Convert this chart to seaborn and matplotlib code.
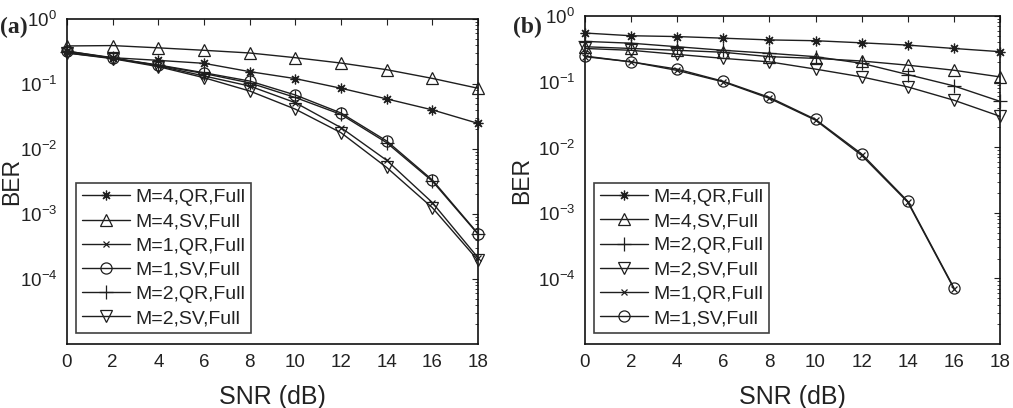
import numpy as np
import pandas as pd
import seaborn as sns
import matplotlib.pyplot as plt

sns.set_style("white", {"xtick.direction": "in", "ytick.direction": "in"})
plt.rcParams['font.family'] = ['Liberation Sans', 'DejaVu Sans']
plt.rcParams['mathtext.fontset'] = 'custom'
plt.rcParams['mathtext.rm'] = 'Liberation Sans'

snr = [0, 2, 4, 6, 8, 10, 12, 14, 16, 18]

# panel (a)
a_m4_qr = [0.32, 0.254, 0.231, 0.208, 0.155, 0.121, 0.086, 0.059, 0.040, 0.0248]
a_m4_sv = [0.385, 0.39, 0.36, 0.33, 0.30, 0.254, 0.21, 0.166, 0.122, 0.086]
a_m1_qr = [0.30, 0.25, 0.19, 0.133, 0.093, 0.0516, 0.0213, 0.0067, 0.0015, 0.000213]
a_m1_sv = [0.32, 0.25, 0.196, 0.149, 0.111, 0.0677, 0.0358, 0.0133, 0.00334, 0.0005]
a_m2_qr = [0.31, 0.25, 0.193, 0.145, 0.104, 0.062, 0.034, 0.0125, 0.0032, 0.00049]
a_m2_sv = [0.30, 0.245, 0.185, 0.125, 0.078, 0.041, 0.0178, 0.0052, 0.00125, 0.000194]

# panel (b)
b_m4_qr = [0.55, 0.50, 0.486, 0.459, 0.432, 0.42, 0.39, 0.36, 0.32, 0.286]
b_m4_sv = [0.34, 0.32, 0.30, 0.28, 0.24, 0.226, 0.206, 0.178, 0.149, 0.118]
b_m2_qr = [0.41, 0.385, 0.34, 0.30, 0.27, 0.24, 0.19, 0.128, 0.086, 0.050]
b_m2_sv = [0.32, 0.30, 0.26, 0.226, 0.20, 0.155, 0.118, 0.083, 0.052, 0.0296]
b_m1_qr = [0.24, 0.20, 0.148, 0.099, 0.0555, 0.0258, 0.0075, 0.00145, 7.0e-5]
b_m1_sv = [0.245, 0.20, 0.155, 0.101, 0.0575, 0.0265, 0.0079, 0.0015, 7.2e-5]

labels_a = ["M=4,QR,Full", "M=4,SV,Full", "M=1,QR,Full", "M=1,SV,Full", "M=2,QR,Full", "M=2,SV,Full"]
labels_b = ["M=4,QR,Full", "M=4,SV,Full", "M=2,QR,Full", "M=2,SV,Full", "M=1,QR,Full", "M=1,SV,Full"]

mk_a = [(8, 2, 0), "^", "x", "o", "+", "v"]
mk_b = [(8, 2, 0), "^", "+", "v", "x", "o"]
ms_a = [7, 9, 5, 8, 10, 9]
ms_b = [7, 9, 10, 9, 5, 8]

series_a = [a_m4_qr, a_m4_sv, a_m1_qr, a_m1_sv, a_m2_qr, a_m2_sv]
series_b = [b_m4_qr, b_m4_sv, b_m2_qr, b_m2_sv, b_m1_qr, b_m1_sv]

W, H = 1013, 408
fig = plt.figure(figsize=(W / 100, H / 100), dpi=100)
ax_a = fig.add_axes([67 / W, 64 / H, 411 / W, 325 / H])
ax_b = fig.add_axes([585 / W, 64 / H, 415 / W, 328 / H])

line_col = '#1e1e1e'

panels = [(ax_a, series_a, labels_a, mk_a, ms_a, 23, 76),
          (ax_b, series_b, labels_b, mk_b, ms_b, 533, 594)]
for ax, series, labels, mks, mss, ylab_x, leg_x in panels:
    for vals, lab, mk, ms in zip(series, labels, mks, mss):
        df = pd.DataFrame({"SNR": snr[:len(vals)], "BER": vals})
        sns.lineplot(data=df, x="SNR", y="BER", ax=ax, color=line_col, lw=1.0,
                     marker=mk, markersize=ms, markerfacecolor='none',
                     markeredgecolor=line_col, markeredgewidth=0.9, label=lab,
                     clip_on=False, zorder=3)
    ax.set_yscale('log')
    ax.set_xlim(0, 18)
    ax.set_ylim(1e-5, 1)
    ax.set_xticks(snr)
    ax.set_yticks([1e0, 1e-1, 1e-2, 1e-3, 1e-4])
    ax.set_yticklabels([r'$10^{0}$', r'$10^{-1}$', r'$10^{-2}$', r'$10^{-3}$', r'$10^{-4}$'])
    ax.tick_params(axis='both', which='both', direction='in', top=True, right=True,
                   labelsize=13.5, colors='#222222')
    ax.tick_params(which='major', length=4, width=0.8, pad=7)
    ax.tick_params(which='minor', length=2, width=0.6)
    ax.set_xlabel("SNR (dB)", fontsize=18, labelpad=10, color='#222222')
    ax.set_ylabel("BER", fontsize=16.5, color='#222222')
    pos = ax.get_position()
    ax.yaxis.set_label_coords((ylab_x - pos.x0 * W) / (pos.width * W), 0.5)
    for sp in ax.spines.values():
        sp.set_visible(True)
        sp.set_color('#111111')
        sp.set_linewidth(1.2)
    ax.grid(False)
    leg = ax.legend(loc='lower left',
                    bbox_to_anchor=((leg_x - pos.x0 * W) / (pos.width * W), 11 / 328),
                    fontsize=14, frameon=True, fancybox=False, handlelength=2.5,
                    handletextpad=0.25, labelspacing=0.34, borderpad=0.3,
                    borderaxespad=0.0)
    leg.get_frame().set_edgecolor('#111111')
    leg.get_frame().set_linewidth(1.2)
    for t in leg.get_texts():
        t.set_color('#222222')

fig.text(0, 375 / H, "(a)", fontsize=17, fontweight='bold', family='Liberation Serif',
         ha='left', va='baseline')
fig.text(513 / W, 375 / H, "(b)", fontsize=17, fontweight='bold', family='Liberation Serif',
         ha='left', va='baseline')

fig.savefig("out.png", dpi=100)
